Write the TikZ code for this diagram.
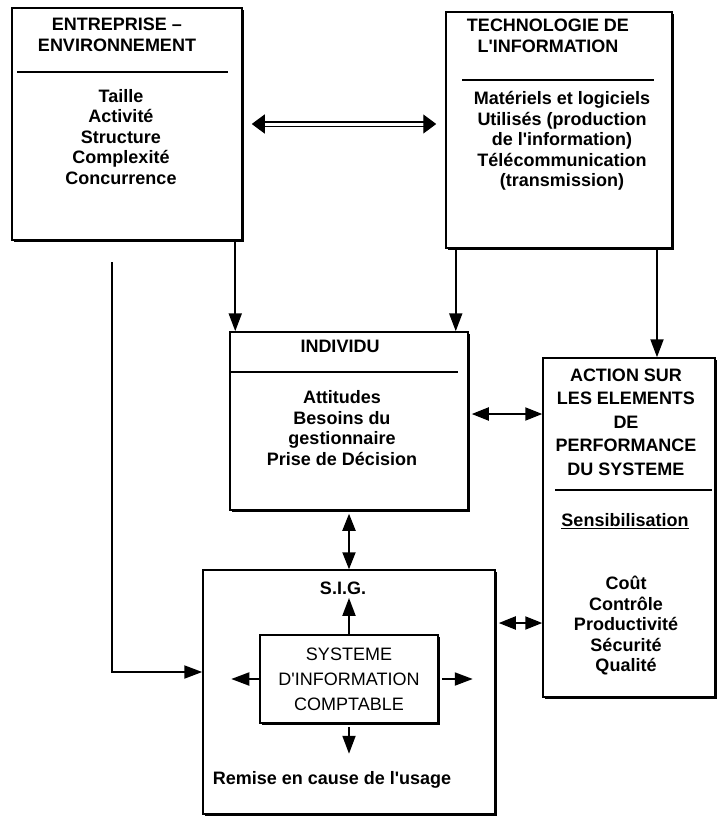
\documentclass[tikz,border=0pt]{standalone}
\usepackage{fontspec}
\setmainfont{Liberation Sans}[Ligatures=TeXOff]
\usetikzlibrary{positioning,shadows,arrows.meta}

\tikzset{
  boite/.style={draw, rectangle, line width=1.5pt, fill=white,
    drop shadow={shadow xshift=2pt,shadow yshift=-2pt,opacity=1,fill=black}},
  titre/.style={align=center, font=\fontsize{18}{21}\selectfont\bfseries},
  corps/.style={align=center, font=\fontsize{18}{20.5}\selectfont\bfseries},
  trait/.style={line width=1.5pt},
  fleche/.style={line width=2pt, -{Triangle[length=18pt,width=13pt]}},
  dfleche/.style={line width=2pt, {Triangle[length=17pt,width=13pt]}-{Triangle[length=17pt,width=13pt]}},
  dbl/.style={line width=1.3pt, double, double distance=3pt,
    {Triangle[length=13pt,width=19pt]}-{Triangle[length=13pt,width=19pt]}},
}

\begin{document}
\begin{tikzpicture}[x=1pt,y=-1pt]
\useasboundingbox (0,0) rectangle (720,820);

% entreprise
\node[boite, minimum width=230pt, minimum height=232pt] (ent) at (127,124) {};
\node[titre] (entT) at (117,35) {ENTREPRISE –\\ENVIRONNEMENT};
\draw[trait] (17,72) -- (228,72);
\node[corps] (entC) at (121,137) {Taille\\Activité\\Structure\\Complexité\\Concurrence};

% technologie
\node[boite, minimum width=226pt, minimum height=236pt] (tech) at (559,130) {};
\node[titre] (techT) at (548,36) {TECHNOLOGIE DE\\L'INFORMATION};
\draw[trait] (462,80) -- (654,80);
\node[corps] (techC) at (562,141) {Matériels et logiciels\\Utilisés (production\\de l'information)\\Télécommunication\\(transmission)};

% individu
\node[boite, minimum width=238pt, minimum height=178pt] (ind) at (349,421) {};
\node[titre] (indT) at (340,346) {INDIVIDU};
\draw[trait] (231,372) -- (458,372);
\node[corps] (indC) at (342,428) {Attitudes\\Besoins du\\gestionnaire\\Prise de Décision};

% action
\node[boite, minimum width=172pt, minimum height=339pt] (act) at (629,527.5) {};
\node[align=center, font=\fontsize{18}{23.5}\selectfont\bfseries] (actT) at (626,422) {ACTION SUR\\LES ELEMENTS\\DE\\PERFORMANCE\\DU SYSTEME};
\draw[trait] (555,490) -- (712,490);
\node[corps] (sens) at (625,521) {\underline{Sensibilisation}};
\node[corps] (actC) at (626,626) {Coût\\Contrôle\\Productivité\\Sécurité\\Qualité};

% S.I.G.
\node[boite, minimum width=292pt, minimum height=244pt] (sig) at (349,692) {};
\node[corps] (siglbl) at (343,588) {S.I.G.};
\node[boite, minimum width=178pt, minimum height=88pt, align=center,
  font=\fontsize{18}{25}\selectfont] (sic) at (349,679) {SYSTEME\\D'INFORMATION\\COMPTABLE};
\node[corps] (remise) at (332,780) {Remise en cause de l'usage};

% liaisons
\coordinate (e1) at ([xshift=6pt]ind.north west);
\coordinate (t1) at ([xshift=-13pt]ind.north east);
\coordinate (t2) at ([xshift=28pt]act.north);
\coordinate (i1) at ([yshift=7pt]ind.east);
\coordinate (s1) at ([yshift=69pt]sig.east);
\coordinate (l1) at (112,262);

\draw[dbl, shorten <=9pt, shorten >=9pt] (ent.east) -- (ent.east -| tech.west);
\draw[fleche] (e1 |- ent.south) -- (e1);
\draw[fleche] (t1 |- tech.south) -- (t1);
\draw[fleche] (t2 |- tech.south) -- (t2);
\draw[dfleche, shorten <=3pt] (i1) -- (i1 -| act.west);
\draw[dfleche, shorten <=3pt] (ind.south) -- (sig.north);
\draw[dfleche, shorten <=3pt] (s1) -- (s1 -| act.west);
\draw[fleche] (l1) |- ([yshift=20pt]sig.west);

\draw[fleche] (sic.north) -- (sic.north |- siglbl.south);
\draw[fleche, shorten <=3pt] (sic.south) -- ++(0,30);
\draw[fleche] (sic.west) -- ++(-28,0);
\draw[fleche, shorten <=3pt] (sic.east) -- ++(34,0);
\end{tikzpicture}
\end{document}
